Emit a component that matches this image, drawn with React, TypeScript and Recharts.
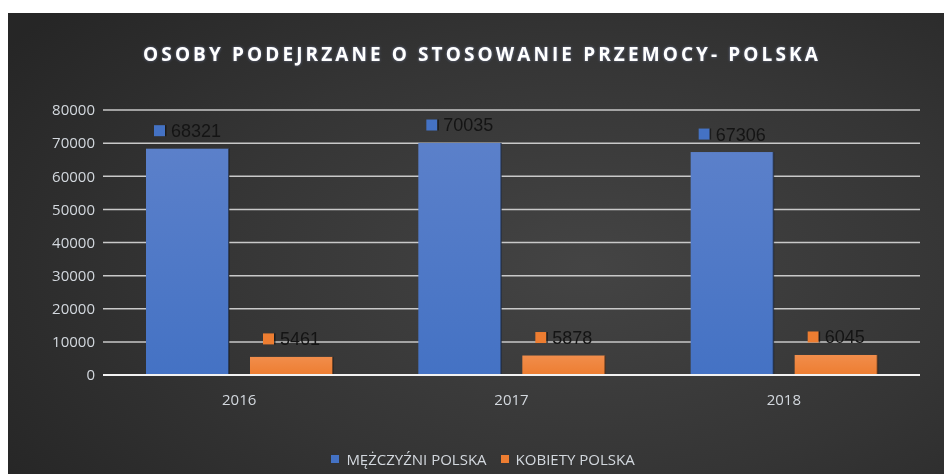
import { BarChart, Bar, XAxis, YAxis, CartesianGrid, LabelList } from "recharts";

const YEARS = ["2016", "2017", "2018"];
const MEN = [68321, 70035, 67306];
const WOMEN = [5461, 5878, 6045];
const Y_TICKS = [0, 10000, 20000, 30000, 40000, 50000, 60000, 70000, 80000];

const SERIES = [
  { key: "men", name: "MĘŻCZYŹNI POLSKA", color: "#4472c4", light: "#5b80ca" },
  { key: "women", name: "KOBIETY POLSKA", color: "#ed7d31", light: "#f18d4b" },
];

const W = 936;
const H = 461;
const TICK_COLOR = "#d3d8de";

const data = YEARS.map((year, i) => ({ year, men: MEN[i], women: WOMEN[i] }));

function makeLabel(color: string) {
  return function ValueLabel(props: any) {
    const { x, y, width, value } = props;
    const text = String(value);
    const textW = text.length * 10;
    const groupW = 11 + 6 + textW;
    const left = x + width / 2 - groupW / 2;
    const cy = y - 18;
    return (
      <g>
        <rect x={left} y={cy - 5.5} width={11} height={11} fill={color} />
        <rect x={left + 11} y={cy - 5.5} width={1.5} height={11} fill="#111" opacity={0.7} />
        <text
          x={left + 17}
          y={cy}
          dy="0.36em"
          fill="#141414"
          fontSize={18}
          fontFamily="'Liberation Sans', Arial, sans-serif"
        >
          {text}
        </text>
      </g>
    );
  };
}

function BarShape(props: any) {
  const { x, y, width, height, fill } = props;
  return (
    <g>
      <rect x={x} y={y} width={width} height={height} fill={fill} />
      <rect x={x + width - 1} y={y} width={1.5} height={height} fill="#111" opacity={0.55} />
    </g>
  );
}

export default function App() {
  return (
    <div
      style={{
        position: "fixed",
        left: 8,
        top: 13,
        width: W,
        height: H,
        background:
          "radial-gradient(ellipse 75% 85% at 62% 55%, #444444 0%, #353535 55%, #262626 100%)",
        fontFamily: "'Open Sans', sans-serif",
      }}
    >
      <div
        style={{
          position: "absolute",
          top: 28,
          left: 0,
          width: W,
          textAlign: "center",
          color: "#fff",
          fontWeight: 700,
          fontSize: 19,
          letterSpacing: 3.1,
          textShadow: "0 0 3px rgba(170,190,255,0.45)",
          paddingLeft: 12,
          boxSizing: "border-box",
        }}
      >
        OSOBY PODEJRZANE O STOSOWANIE PRZEMOCY- POLSKA
      </div>

      <BarChart
        width={W}
        height={H}
        data={data}
        margin={{ top: 97, right: 24, left: 0, bottom: 69 }}
        barSize={83}
        barGap={21}
      >
        <defs>
          {SERIES.map((s) => (
            <linearGradient key={s.key} id={`grad-${s.key}`} x1="0" y1="0" x2="0" y2="1">
              <stop offset="0%" stopColor={s.light} />
              <stop offset="100%" stopColor={s.color} />
            </linearGradient>
          ))}
        </defs>
        <CartesianGrid horizontal vertical={false} stroke="#c9c9c9" strokeWidth={1.5} />
        <XAxis
          dataKey="year"
          height={30}
          tickLine={false}
          tickSize={6}
          tickMargin={13}
          axisLine={{ stroke: "#f2f2f2", strokeWidth: 2 }}
          tick={{ fill: TICK_COLOR, fontSize: 15, fontFamily: "'Open Sans', sans-serif" }}
        />
        <YAxis
          width={95}
          domain={[0, 80000]}
          ticks={Y_TICKS}
          interval={0}
          tickLine={false}
          axisLine={false}
          tick={{ fill: TICK_COLOR, fontSize: 15, fontFamily: "'Open Sans', sans-serif" }}
        />
        {SERIES.map((s) => (
          <Bar
            key={s.key}
            dataKey={s.key}
            name={s.name}
            fill={`url(#grad-${s.key})`}
            shape={BarShape}
            isAnimationActive={false}
          >
            <LabelList dataKey={s.key} content={makeLabel(s.color)} />
          </Bar>
        ))}
      </BarChart>

      <div
        style={{
          position: "absolute",
          top: 436,
          left: 0,
          width: W,
          display: "flex",
          justifyContent: "center",
          gap: 14,
          paddingLeft: 14,
          boxSizing: "border-box",
          color: TICK_COLOR,
          fontSize: 15,
          lineHeight: "20px",
        }}
      >
        {SERIES.map((s) => (
          <div key={s.key} style={{ display: "flex", alignItems: "center", gap: 7 }}>
            <span style={{ width: 8, height: 8, background: s.color, display: "inline-block" }} />
            <span>{s.name}</span>
          </div>
        ))}
      </div>
    </div>
  );
}
